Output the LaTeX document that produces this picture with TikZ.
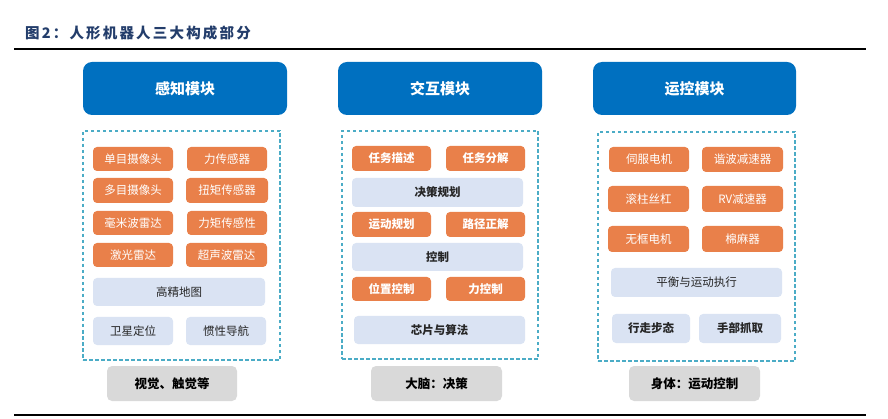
\documentclass[tikz,border=0pt]{standalone}
\usepackage{fontspec}
\setmainfont{Noto Sans CJK SC}
\newfontfamily\titlefont[LetterSpace=15]{Noto Sans CJK SC}
\definecolor{hdrblue}{HTML}{0070C0}
\definecolor{orng}{HTML}{E9804A}
\definecolor{lite}{HTML}{DAE3F3}
\definecolor{gry}{HTML}{D9D9D9}
\definecolor{dsh}{HTML}{4BACC6}
\definecolor{ttl}{HTML}{233D6B}
\newcommand\bx[7]{\node[#1, minimum width={(#5-#3)*1pt}, minimum height={(#6-#4)*1pt}] (#2) at ({(#3+#5)/2},{-(#4+#6)/2}) {#7};}
\tikzset{
  x=1pt, y=1pt,
  base/.style={inner sep=0pt, outer sep=0pt, align=center},
  hdr/.style={base, fill=hdrblue, rounded corners=9pt, text=white, font=\fontsize{15}{18}\selectfont\bfseries},
  dbox/.style={base, draw=dsh, line width=1.2pt, dash pattern=on 3.5pt off 2.5pt},
  obox/.style={base, fill=orng, rounded corners=4pt, text=white, font=\fontsize{11.5}{14}\selectfont},
  oboxb/.style={obox, font=\fontsize{11.5}{14}\selectfont\bfseries},
  lbox/.style={base, fill=lite, rounded corners=4pt, text=black!85, font=\fontsize{11.5}{14}\selectfont},
  lboxb/.style={lbox, font=\fontsize{11.5}{14}\selectfont\bfseries},
  gbox/.style={base, fill=gry, rounded corners=5pt, text=black, font=\fontsize{12.5}{15}\selectfont\bfseries},
  rule/.style={line width=2pt, black}
}
\begin{document}
\begin{tikzpicture}
\useasboundingbox (0,0) rectangle (888,-419);
% title and rules
\node[anchor=west, inner sep=0pt, text=ttl, font=\titlefont\fontsize{14.5}{16}\selectfont\bfseries] (title) at (25,-33) {图2：人形机器人三大构成部分};
\coordinate (tl) at (14,-49); \coordinate (tr) at (866,-49);
\coordinate (bl) at (14,-414.5); \coordinate (br) at (866,-414.5);
\draw[rule] (tl) -- (tr);
\draw[rule] (bl) -- (br);
% column 1
\bx{hdr}{h1}{83}{62}{287}{115}{感知模块}
\bx{dbox}{d1}{83}{131}{280}{360}{}
\bx{obox}{a1}{93}{147}{173}{171}{单目摄像头}
\bx{obox}{a2}{187}{147}{267}{171}{力传感器}
\bx{obox}{a3}{93}{178}{173}{203}{多目摄像头}
\bx{obox}{a4}{186}{178}{268}{203}{扭矩传感器}
\bx{obox}{a5}{93}{211}{173}{235}{毫米波雷达}
\bx{obox}{a6}{187}{211}{267}{235}{力矩传感性}
\bx{obox}{a7}{93}{243}{173}{267}{激光雷达}
\bx{obox}{a8}{186}{243}{267}{267}{超声波雷达}
\bx{lbox}{a9}{93}{278}{265}{306}{高精地图}
\bx{lbox}{a10}{93}{317}{173}{345}{卫星定位}
\bx{lbox}{a11}{186}{317}{266}{345}{惯性导航}
\bx{gbox}{g1}{107}{366}{237}{401}{视觉、触觉等}
% column 2
\bx{hdr}{h2}{338}{62}{542}{115}{交互模块}
\bx{dbox}{d2}{342}{131}{538}{359}{}
\bx{oboxb}{b1}{352}{146}{431}{171}{任务描述}
\bx{oboxb}{b2}{446}{146}{525}{171}{任务分解}
\bx{lboxb}{b3}{352}{178}{523}{207}{决策规划}
\bx{oboxb}{b4}{352}{212}{431}{237}{运动规划}
\bx{oboxb}{b5}{446}{212}{525}{237}{路径正解}
\bx{lboxb}{b6}{352}{243}{523}{271}{控制}
\bx{oboxb}{b7}{352}{277}{431}{301}{位置控制}
\bx{oboxb}{b8}{446}{277}{525}{301}{力控制}
\bx{lboxb}{b9}{354}{316}{525}{344}{芯片与算法}
\bx{gbox}{g2}{371}{366}{502}{401}{大脑：决策}
% column 3
\bx{hdr}{h3}{593}{62}{796}{115}{运控模块}
\bx{dbox}{d3}{598}{132}{795}{361}{}
\bx{obox}{c1}{609}{147}{689}{172}{伺服电机}
\bx{obox}{c2}{702}{147}{783}{172}{谐波减速器}
\bx{obox}{c3}{608}{186}{689}{212}{滚柱丝杠}
\bx{obox}{c4}{702}{186}{783}{212}{RV减速器}
\bx{obox}{c5}{608}{226}{689}{252}{无框电机}
\bx{obox}{c6}{702}{226}{783}{252}{棉麻器}
\bx{lbox}{c7}{611}{268}{782}{297}{平衡与运动执行}
\bx{lboxb}{c8}{612}{314}{690}{343}{行走步态}
\bx{lboxb}{c9}{699}{314}{781}{343}{手部抓取}
\bx{gbox}{g3}{629}{366}{760}{401}{身体：运动控制}
\end{tikzpicture}
\end{document}
